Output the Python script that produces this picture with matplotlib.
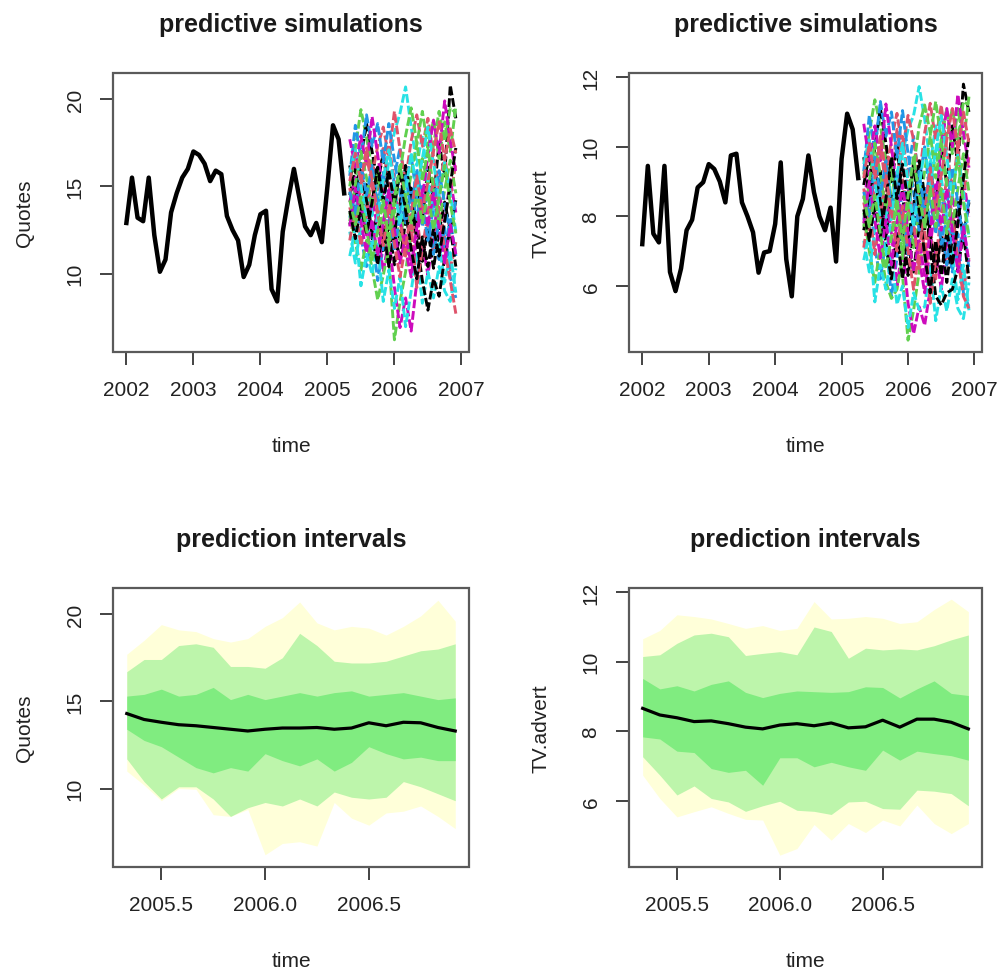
# predictive simulations and prediction intervals for Quotes / TV.advert

import numpy as np
import matplotlib
matplotlib.use("Agg")
import matplotlib.pyplot as plt
from matplotlib.patches import Rectangle

plt.rcParams['font.family'] = ['Liberation Sans', 'DejaVu Sans']

# ------------------------------------------
# Data (monthly series, 2002.0 - 2005.25, forecasts 2005.333 - 2006.917)
# ------------------------------------------

hist_start = 2002.0
fc_start = 2005 + 4 / 12

quotes_hist = [12.9, 15.5, 13.2, 13.0, 15.5, 12.2, 10.1, 10.8, 13.5, 14.6,
               15.5, 16.0, 17.0, 16.8, 16.3, 15.3, 15.9, 15.7, 13.3, 12.5,
               11.9, 9.8, 10.5, 12.2, 13.4, 13.6, 9.1, 8.4, 12.4, 14.3,
               16.0, 14.3, 12.7, 12.2, 12.9, 11.8, 15.0, 18.5, 17.7, 14.6]

tv_hist = [7.2, 9.45, 7.5, 7.25, 9.45, 6.4, 5.85, 6.5, 7.6, 7.9,
           8.83, 8.98, 9.5, 9.36, 9.0, 8.4, 9.75, 9.8, 8.4, 8.0,
           7.54, 6.38, 6.96, 7.0, 7.78, 9.55, 6.77, 5.7, 8.0, 8.5,
           9.75, 8.7, 8.0, 7.6, 8.25, 6.7, 9.65, 10.95, 10.5, 9.1]

quotes_sims = [
    [14.5, 16.0, 13.2, 15.1, 12.0, 13.5, 11.2, 12.8, 10.5, 12.3, 14.0, 12.5, 15.2, 13.0, 16.1, 14.2, 17.5, 15.6, 20.8, 18.9],
    [13.8, 12.5, 15.2, 13.6, 16.4, 14.8, 17.3, 15.1, 13.6, 16.0, 14.1, 11.9, 13.4, 10.6, 12.9, 11.3, 13.8, 12.1, 10.2, 11.8],
    [15.0, 17.2, 19.4, 17.8, 16.0, 14.3, 12.6, 10.9, 6.2, 8.4, 10.1, 12.4, 14.5, 16.6, 15.0, 17.4, 19.3, 17.6, 19.5, 19.2],
    [13.2, 14.6, 12.1, 10.4, 12.3, 9.6, 11.5, 13.8, 15.6, 17.2, 15.1, 16.8, 14.3, 12.7, 14.9, 12.2, 10.8, 12.6, 9.8, 8.6],
    [12.4, 10.6, 12.8, 14.9, 13.2, 15.7, 14.0, 16.5, 18.1, 19.2, 20.7, 18.4, 16.2, 17.9, 15.4, 13.6, 11.7, 9.5, 11.2, 8.9],
    [14.1, 15.5, 14.0, 12.2, 14.4, 12.6, 10.1, 12.0, 9.2, 6.9, 8.6, 6.7, 9.5, 11.8, 9.9, 12.3, 14.6, 13.0, 15.4, 13.5],
    [16.2, 14.4, 16.7, 18.6, 17.0, 15.2, 16.9, 14.5, 12.4, 10.8, 13.0, 14.9, 12.6, 10.7, 12.5, 10.3, 12.4, 14.1, 12.5, 14.2],
    [11.9, 13.7, 11.6, 13.4, 15.6, 17.3, 18.4, 16.7, 19.3, 17.1, 15.4, 17.6, 19.1, 17.3, 18.9, 16.7, 14.9, 16.8, 14.4, 16.3],
    [13.5, 11.8, 10.2, 11.9, 10.3, 8.5, 9.9, 11.5, 13.6, 11.9, 13.9, 15.7, 17.4, 19.3, 17.2, 18.8, 16.6, 18.7, 17.0, 19.6],
    [15.6, 18.5, 16.6, 19.1, 17.3, 18.6, 16.4, 18.6, 16.5, 14.6, 12.9, 14.8, 13.1, 15.0, 13.2, 11.1, 13.0, 11.3, 13.1, 11.0],
    [11.0, 12.6, 9.3, 11.1, 9.96, 11.7, 8.4, 10.2, 8.0, 9.8, 6.95, 9.0, 11.2, 8.3, 10.1, 8.6, 10.4, 9.0, 8.4, 10.3],
    [17.7, 16.1, 17.9, 16.2, 19.0, 16.8, 14.7, 12.9, 14.8, 13.0, 11.4, 9.8, 12.0, 14.3, 16.8, 18.8, 16.9, 19.9, 17.6, 15.8],
    [12.8, 14.3, 15.9, 14.2, 12.1, 10.5, 12.7, 10.4, 12.3, 14.0, 16.2, 14.4, 11.9, 9.6, 7.9, 9.7, 8.7, 10.9, 12.6, 10.4],
    [14.9, 13.1, 14.8, 16.8, 15.0, 13.3, 15.1, 17.4, 15.3, 13.1, 11.0, 12.8, 9.2, 11.4, 13.5, 15.4, 13.3, 11.4, 9.6, 7.7],
    [13.0, 15.1, 17.0, 15.5, 13.8, 15.9, 13.6, 11.6, 13.7, 15.8, 17.9, 19.5, 17.5, 15.3, 17.1, 14.9, 12.9, 14.8, 16.5, 14.6],
    [14.7, 13.4, 16.3, 14.5, 16.2, 13.9, 15.8, 13.5, 11.3, 13.4, 15.6, 13.6, 16.0, 14.1, 11.9, 13.8, 15.9, 14.0, 12.2, 14.3],
    [15.8, 17.1, 15.0, 13.1, 11.4, 13.3, 15.4, 17.1, 15.0, 12.8, 14.7, 16.9, 14.8, 16.6, 18.4, 16.3, 14.4, 16.4, 14.6, 12.4],
    [12.7, 14.9, 13.0, 11.2, 13.1, 11.0, 12.9, 14.8, 12.5, 10.6, 12.2, 10.5, 12.6, 14.8, 12.7, 14.6, 12.6, 10.6, 12.8, 11.1],
    [13.6, 12.0, 13.9, 12.3, 14.1, 16.1, 14.2, 15.9, 14.0, 15.9, 13.6, 11.4, 9.7, 12.1, 10.4, 12.6, 11.0, 13.0, 15.1, 17.2],
    [15.3, 16.9, 15.2, 17.2, 15.4, 13.5, 11.6, 13.9, 11.7, 9.8, 11.6, 13.5, 15.6, 13.5, 15.3, 17.0, 18.7, 16.5, 18.3, 16.9],
    [14.2, 12.8, 14.4, 12.5, 10.8, 12.4, 14.2, 12.1, 14.3, 16.2, 14.4, 12.9, 14.7, 12.9, 14.6, 12.5, 14.3, 16.2, 14.0, 12.3],
]

tv_sims = [
    [8.9, 9.8, 8.1, 9.3, 7.4, 8.6, 6.9, 7.9, 6.3, 7.5, 8.8, 7.6, 9.4, 8.2, 10.1, 8.9, 10.6, 9.5, 11.8, 11.0],
    [8.4, 7.6, 9.2, 8.1, 10.0, 9.0, 10.5, 9.1, 7.9, 9.6, 8.3, 6.9, 7.8, 6.2, 7.6, 6.6, 8.1, 7.0, 5.9, 6.8],
    [9.2, 10.4, 11.35, 10.6, 9.6, 8.5, 7.4, 6.3, 4.44, 5.3, 6.4, 7.5, 8.7, 9.9, 9.0, 10.4, 11.1, 10.2, 11.3, 11.2],
    [7.9, 8.8, 7.1, 6.2, 7.3, 5.7, 6.8, 8.2, 9.3, 10.3, 9.0, 10.0, 8.5, 7.5, 8.8, 7.3, 6.4, 7.5, 5.8, 5.4],
    [7.3, 6.4, 7.6, 8.9, 7.8, 9.3, 8.3, 9.8, 10.5, 10.9, 11.73, 10.8, 9.5, 10.6, 9.1, 8.0, 6.9, 5.6, 6.6, 5.3],
    [8.5, 9.3, 8.4, 7.3, 8.6, 7.5, 6.0, 7.1, 5.5, 4.63, 5.4, 4.87, 5.9, 7.0, 5.9, 7.3, 8.6, 7.7, 9.1, 8.0],
    [9.7, 8.6, 10.0, 11.1, 10.1, 9.0, 10.0, 8.6, 7.4, 6.4, 7.7, 8.8, 7.5, 6.4, 7.4, 6.1, 7.4, 8.4, 7.4, 8.4],
    [7.1, 8.2, 6.9, 8.0, 9.2, 10.2, 10.96, 9.9, 10.9, 10.2, 9.1, 10.4, 11.25, 10.2, 11.2, 9.9, 8.8, 10.0, 8.5, 9.7],
    [8.1, 7.0, 6.1, 7.1, 6.1, 5.64, 5.9, 6.8, 8.1, 7.1, 8.2, 9.3, 10.3, 11.3, 10.2, 11.1, 9.8, 11.1, 10.1, 11.44],
    [9.3, 10.9, 9.9, 11.3, 10.3, 11.0, 9.7, 11.04, 9.8, 8.7, 7.6, 8.8, 7.8, 8.9, 7.8, 6.6, 7.7, 6.7, 7.8, 6.5],
    [6.74, 7.5, 5.54, 6.6, 5.9, 6.9, 5.47, 6.0, 4.8, 5.8, 5.32, 5.4, 6.6, 5.0, 6.0, 5.28, 6.2, 5.35, 5.06, 6.1],
    [10.66, 9.6, 10.6, 9.6, 11.23, 10.0, 8.7, 7.7, 8.8, 7.7, 6.8, 5.8, 7.1, 8.5, 10.0, 11.1, 10.0, 11.5, 10.4, 9.4],
    [7.6, 8.5, 9.4, 8.4, 7.2, 6.2, 7.5, 6.2, 7.3, 8.3, 9.6, 8.6, 7.1, 5.7, 5.45, 5.8, 5.9, 6.5, 7.5, 6.2],
    [8.8, 7.8, 8.8, 10.0, 8.9, 7.9, 9.0, 10.3, 9.1, 7.8, 6.5, 7.6, 5.5, 6.8, 8.0, 9.1, 7.9, 6.8, 5.7, 5.35],
    [7.7, 9.0, 10.1, 9.2, 8.2, 9.4, 8.1, 6.9, 8.1, 9.4, 10.6, 11.2, 10.4, 9.1, 10.2, 8.9, 7.7, 8.8, 9.8, 8.7],
    [8.7, 8.0, 9.7, 8.6, 9.6, 8.2, 9.3, 8.1, 6.9, 8.1, 9.3, 8.1, 9.5, 8.4, 7.2, 8.3, 9.4, 8.4, 7.3, 8.5],
    [9.5, 10.2, 9.0, 7.9, 6.9, 8.0, 9.2, 10.1, 9.0, 7.7, 8.8, 10.0, 8.9, 9.9, 10.9, 9.7, 8.6, 9.8, 8.7, 7.4],
    [7.8, 9.0, 7.9, 6.8, 7.9, 6.6, 7.8, 8.9, 7.5, 6.4, 7.3, 6.3, 7.6, 8.9, 7.6, 8.8, 7.6, 6.4, 7.7, 6.7],
    [8.2, 7.3, 8.4, 7.4, 8.5, 9.7, 8.5, 9.5, 8.4, 9.5, 8.2, 6.9, 5.8, 7.3, 6.3, 7.6, 6.6, 7.8, 9.1, 10.3],
    [9.1, 10.1, 9.1, 10.3, 9.2, 8.1, 7.0, 8.3, 7.0, 5.9, 7.0, 8.1, 9.4, 8.1, 9.2, 10.2, 11.1, 9.9, 11.0, 10.1],
    [8.6, 7.7, 8.6, 7.5, 6.5, 7.4, 8.5, 7.3, 8.6, 9.7, 8.6, 7.7, 8.8, 7.7, 8.8, 7.5, 8.6, 9.7, 8.4, 7.4],
]

# prediction interval bands (outer, middle, inner) and median
quotes_outer_hi = [17.7, 18.5, 19.4, 19.1, 19.0, 18.6, 18.4, 18.6, 19.3, 19.8, 20.7, 19.5, 19.1, 19.3, 19.2, 18.8, 19.3, 19.9, 20.8, 19.6]
quotes_outer_lo = [11.0, 10.2, 9.3, 10.0, 9.96, 8.5, 8.4, 8.8, 6.2, 6.85, 6.95, 6.7, 9.2, 8.3, 7.9, 8.6, 8.7, 9.0, 8.4, 7.7]
quotes_mid_hi = [16.7, 17.4, 17.4, 18.2, 18.3, 18.1, 17.0, 17.0, 16.9, 17.5, 18.9, 18.2, 17.3, 17.2, 17.2, 17.3, 17.6, 17.9, 18.0, 18.3]
quotes_mid_lo = [11.7, 10.4, 9.4, 10.1, 10.1, 9.4, 8.4, 8.9, 9.2, 9.0, 9.4, 9.0, 9.8, 9.5, 9.4, 9.5, 10.4, 10.1, 9.7, 9.3]
quotes_in_hi = [15.3, 15.4, 15.7, 15.3, 15.4, 15.8, 15.1, 15.4, 15.1, 15.3, 15.5, 15.3, 15.5, 15.6, 15.3, 15.4, 15.5, 15.3, 15.1, 15.2]
quotes_in_lo = [13.4, 12.76, 12.4, 11.8, 11.2, 10.9, 11.2, 11.0, 12.0, 11.6, 11.3, 11.7, 11.0, 11.5, 12.4, 12.0, 11.7, 11.8, 11.6, 11.6]
quotes_median = [14.3, 13.96, 13.8, 13.66, 13.6, 13.5, 13.4, 13.3, 13.4, 13.47, 13.47, 13.5, 13.4, 13.47, 13.77, 13.6, 13.8, 13.77, 13.5, 13.3]

tv_outer_hi = [10.66, 10.9, 11.35, 11.3, 11.23, 11.1, 10.96, 11.04, 10.9, 10.96, 11.73, 11.23, 11.25, 11.3, 11.25, 11.1, 11.15, 11.5, 11.8, 11.44]
tv_outer_lo = [6.74, 6.07, 5.54, 5.69, 5.83, 5.64, 5.47, 5.45, 4.44, 4.63, 5.32, 4.87, 5.35, 5.09, 5.45, 5.28, 5.88, 5.35, 5.06, 5.35]
tv_mid_hi = [10.15, 10.2, 10.53, 10.77, 10.82, 10.72, 10.18, 10.24, 10.29, 10.2, 11.0, 10.87, 10.1, 10.39, 10.34, 10.37, 10.34, 10.46, 10.63, 10.77]
tv_mid_lo = [7.27, 6.74, 6.17, 6.43, 6.07, 5.97, 5.7, 5.86, 5.99, 5.73, 5.7, 5.61, 5.97, 5.99, 5.78, 5.76, 6.31, 6.28, 6.21, 5.86]
tv_in_hi = [9.52, 9.22, 9.31, 9.16, 9.35, 9.45, 9.12, 8.97, 9.09, 9.16, 9.14, 9.12, 9.14, 9.28, 9.26, 8.96, 9.22, 9.45, 9.09, 9.03]
tv_in_lo = [7.84, 7.78, 7.43, 7.39, 6.93, 6.82, 6.88, 6.45, 7.24, 7.24, 6.98, 7.11, 6.98, 6.88, 7.46, 7.17, 7.43, 7.36, 7.3, 7.17]
tv_median = [8.66, 8.47, 8.39, 8.28, 8.3, 8.22, 8.12, 8.07, 8.18, 8.22, 8.16, 8.24, 8.1, 8.13, 8.32, 8.12, 8.35, 8.35, 8.26, 8.07]

sim_colors = ["black", "#DF536B", "#61D04F", "#2297E6", "#28E2E5", "#CD0BBC"]
band_colors = ["#FFFFD9", "#BDF5AB", "#80EC80"]

# ------------------------------------------
# Layout helpers
# ------------------------------------------

W, H = 1001, 970
fig = plt.figure(figsize=(W / 100, H / 100), dpi=100)


def px_axes(x0, y0, x1, y1):
    return fig.add_axes([x0 / W, 1 - y1 / H, (x1 - x0) / W, (y1 - y0) / H])


def style_axes(ax, title, ylabel, xticks, yticks, xfmt):
    ax.set_xticks(xticks)
    ax.set_xticklabels([xfmt.format(v) for v in xticks])
    ax.set_yticks(yticks)
    ax.set_yticklabels([str(v) for v in yticks], rotation=90, va="center")
    for s in ax.spines.values():
        s.set_visible(False)
    ax.spines["bottom"].set_visible(True)
    ax.spines["left"].set_visible(True)
    ax.spines["bottom"].set_bounds(xticks[0], xticks[-1])
    ax.spines["left"].set_bounds(yticks[0], yticks[-1])
    ax.spines["bottom"].set_linewidth(1.3)
    ax.spines["left"].set_linewidth(1.3)
    ax.add_patch(Rectangle((0, 0), 1, 1, transform=ax.transAxes, fill=False,
                           edgecolor="#5a5a5a", linewidth=1.6, clip_on=False, zorder=5))
    ax.tick_params(direction="out", length=9.5, width=1.2, labelsize=15,
                   colors="#222222")
    ax.tick_params(axis="x", pad=11)
    ax.tick_params(axis="y", pad=11)
    ax.text(0.5, 1.177, title, transform=ax.transAxes, ha="center", va="center",
            fontsize=18, fontweight="bold", color="#1a1a1a")
    ax.text(-0.248, 0.5, ylabel, transform=ax.transAxes, rotation=90,
            ha="center", va="center", fontsize=15, color="#222222")
    ax.text(0.5, -0.335, "time", transform=ax.transAxes, ha="center",
            va="center", fontsize=15, color="#222222")


hist_t = hist_start + np.arange(len(quotes_hist)) / 12
fc_t = fc_start + np.arange(len(quotes_median)) / 12

panels = [
    ("Quotes", quotes_hist, quotes_sims, (5.5, 21.5), [10, 15, 20],
     (quotes_outer_lo, quotes_outer_hi), (quotes_mid_lo, quotes_mid_hi),
     (quotes_in_lo, quotes_in_hi), quotes_median, 113, 469),
    ("TV.advert", tv_hist, tv_sims, (4.1, 12.12), [6, 8, 10, 12],
     (tv_outer_lo, tv_outer_hi), (tv_mid_lo, tv_mid_hi),
     (tv_in_lo, tv_in_hi), tv_median, 629, 982),
]

for name, hist, sims, ylim, yt, outer, mid, inner, med, x0, x1 in panels:
    # --- predictive simulations ---
    ax = px_axes(x0, 74, x1, 353)
    ax.plot(hist_t, hist, color="black", lw=3.2, solid_joinstyle="round", zorder=3)
    for i, path in enumerate(sims):
        ax.plot(fc_t, path, color=sim_colors[i % len(sim_colors)], lw=2.1,
                linestyle=(0, (3, 1.0)), zorder=2)
    ax.set_xlim(2001.80, 2007.113)
    ax.set_ylim(*ylim)
    style_axes(ax, "predictive simulations", name,
               [2002, 2003, 2004, 2005, 2006, 2007], yt, "{:d}")

    # --- prediction intervals ---
    ax = px_axes(x0, 589, x1, 868)
    for (lo, hi), c in zip([outer, mid, inner], band_colors):
        ax.fill_between(fc_t, lo, hi, color=c, linewidth=0)
    ax.plot(fc_t, med, color="black", lw=2.3, zorder=3)
    ax.set_xlim(2005.267, 2006.983)
    ax.set_ylim(*ylim)
    style_axes(ax, "prediction intervals", name, [2005.5, 2006.0, 2006.5],
               yt, "{:.1f}")

fig.savefig("out.png", dpi=100)
